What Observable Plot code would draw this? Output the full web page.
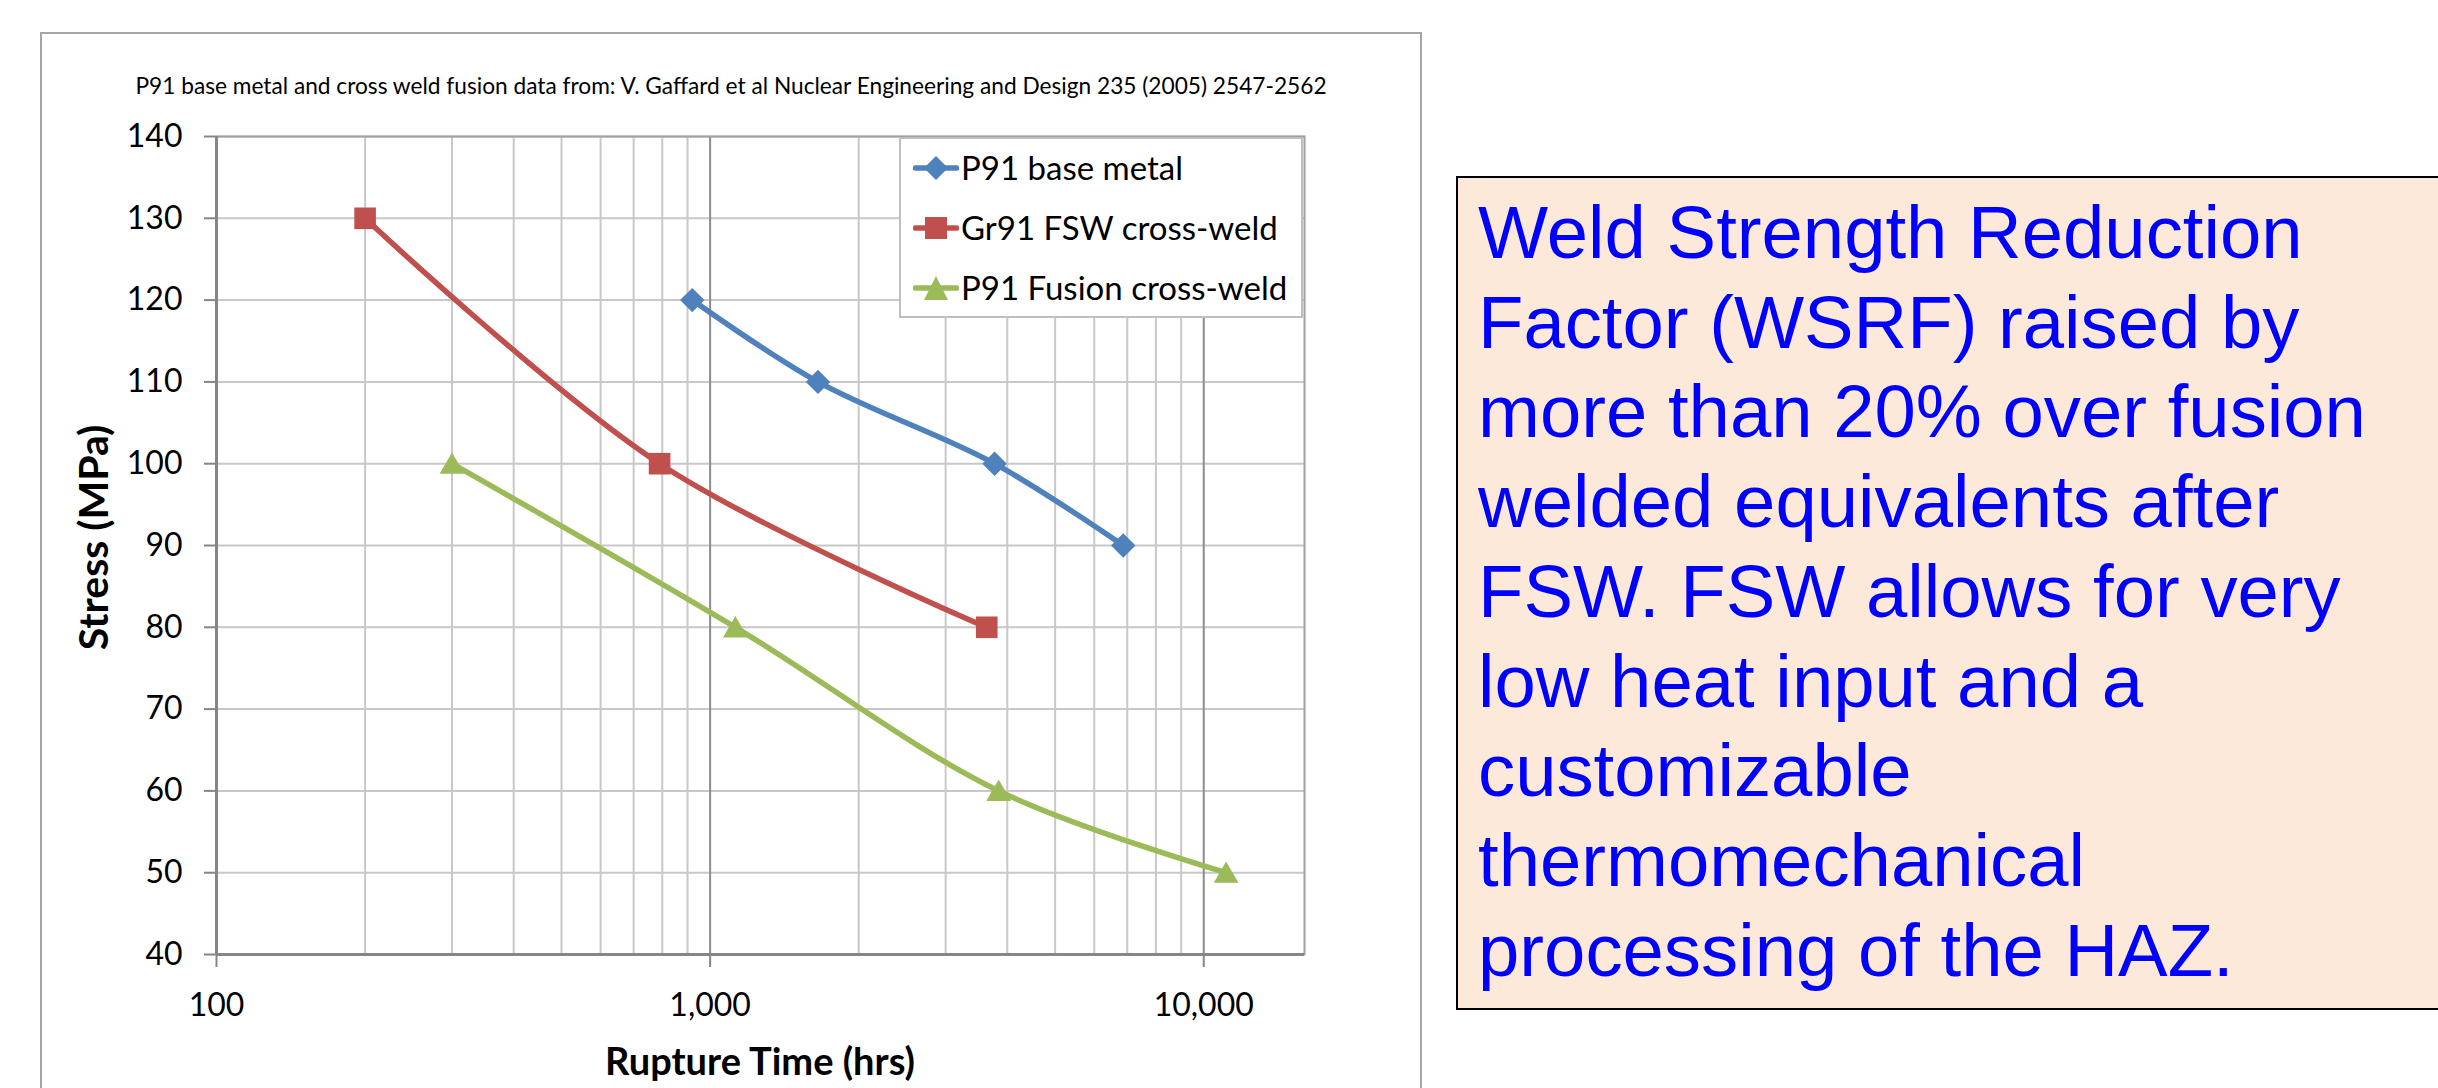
<!DOCTYPE html>
<html>
<head>
<meta charset="utf-8">
<script src="https://cdn.jsdelivr.net/npm/d3@7"></script>
<script src="https://cdn.jsdelivr.net/npm/@observablehq/plot@0.6"></script>
<style>
  html, body { margin: 0; padding: 0; background: #ffffff; }
  body { width: 2438px; height: 1088px; overflow: hidden; position: relative; font-family: Lato, "Open Sans", sans-serif; }
  #frame { position: absolute; left: 40px; top: 32px; width: 1378px; height: 2000px; border: 2px solid #a6a6a6; border-bottom: none; }
  #chart { position: absolute; left: 0; top: 0; }
  #title { position: absolute; left: 0; width: 1462px; top: 75px; text-align: center; font-size: 22.7px; line-height: 22.7px; color: #000; white-space: nowrap; }
  #xlabel { position: absolute; left: 0; width: 1520px; top: 1041px; text-align: center; font-size: 38px; line-height: 38px; font-weight: bold; color: #000; white-space: nowrap; }
  #ylabel { position: absolute; left: -108px; top: 517px; width: 400px; height: 41px; text-align: center; font-size: 41px; line-height: 41px; font-weight: bold; color: #000; transform: rotate(-90deg); transform-origin: 50% 50%; white-space: nowrap; }
  #legend { position: absolute; left: 899px; top: 137px; width: 404px; height: 181px; box-sizing: border-box; border: 2px solid #bfbfbf; background: #fff; }
  .lrow { position: absolute; left: 12px; height: 60px; display: flex; align-items: center; font-size: 33px; line-height: 1.2; color: #000; white-space: nowrap; }
  .lrow svg { margin-right: 2px; }
  #note { position: absolute; left: 1456px; top: 176px; width: 1100px; height: 834px; box-sizing: border-box; border: 2px solid #000; background: #fde9d9; padding: 10px 0 0 20px; font-family: "Liberation Sans", Arial, sans-serif; font-size: 74.3px; line-height: 89.7px; color: #0000ff; white-space: nowrap; }
</style>
</head>
<body>
<div id="frame"></div>
<div id="chart"></div>
<div id="title"></div>
<div id="xlabel"></div>
<div id="ylabel"></div>
<div id="legend"></div>
<div id="note"></div>
<script>
// ---- Data ----
const seriesNames = ["P91 base metal", "Gr91 FSW cross-weld", "P91 Fusion cross-weld"];
const seriesColors = ["#4f81bd", "#c0504d", "#9bbb59"];
const seriesSymbols = ["diamond2", "square", "triangle"];

const baseMetalTime = [920, 1654, 3770, 6870];
const baseMetalStress = [120, 110, 100, 90];

const fswTime = [200, 790, 3634];
const fswStress = [130, 100, 80];

const fusionTime = [300, 1125, 3842, 11100];
const fusionStress = [100, 80, 60, 50];

const xMajorTicks = [100, 1000, 10000];
const yTicks = [40, 50, 60, 70, 80, 90, 100, 110, 120, 130, 140];
const xDomain = [100, 16000];

const titleText = "P91 base metal and cross weld fusion data from: V. Gaffard et al Nuclear Engineering and Design 235 (2005) 2547-2562";
const xLabelText = "Rupture Time (hrs)";
const yLabelText = "Stress (MPa)";
const noteLines = [
  "Weld Strength Reduction",
  "Factor (WSRF) raised by",
  "more than 20% over fusion",
  "welded equivalents after",
  "FSW. FSW allows for very",
  "low heat input and a",
  "customizable",
  "thermomechanical",
  "processing of the HAZ."
];

// ---- Build table ----
const times = [baseMetalTime, fswTime, fusionTime];
const stresses = [baseMetalStress, fswStress, fusionStress];
const rows = seriesNames.flatMap((name, i) => times[i].map((t, j) => ({series: name, time: t, stress: stresses[i][j]})));

const allLogTicks = d3.scaleLog().domain(xDomain).ticks();
const xMinorTicks = allLogTicks.filter(t => !xMajorTicks.includes(t));

const symbolR = {"diamond2": 11, "square": 12.2, "triangle": 9.2};
const symbolDy = {"diamond2": 0, "square": 0, "triangle": 3};

const chart = Plot.plot({
  width: 1422,
  height: 1088,
  marginLeft: 216,
  marginTop: 136,
  marginRight: 118,
  marginBottom: 134,
  style: {fontFamily: "Lato, 'Open Sans', sans-serif", fontSize: "32px", color: "#000", background: "transparent", overflow: "visible"},
  x: {type: "log", domain: xDomain, ticks: xMajorTicks, tickFormat: d3.format(","), tickSize: 13, tickPadding: 26, label: null},
  y: {domain: [yTicks[0], yTicks[yTicks.length - 1]], ticks: yTicks, tickSize: 12, tickPadding: 22, label: null},
  color: {domain: seriesNames, range: seriesColors},
  marks: [
    Plot.ruleY(yTicks, {stroke: "#c8c8c8", strokeWidth: 2}),
    Plot.ruleX(xMinorTicks, {stroke: "#c8c8c8", strokeWidth: 2}),
    Plot.ruleX(xMajorTicks, {stroke: "#8c8c8c", strokeWidth: 2}),
    Plot.frame({stroke: "#a0a0a0", strokeWidth: 2}),
    Plot.ruleX([xDomain[0]], {stroke: "#868686", strokeWidth: 3}),
    Plot.ruleY([yTicks[0]], {stroke: "#868686", strokeWidth: 3}),
    Plot.line(rows, {x: "time", y: "stress", z: "series", stroke: "series", strokeWidth: 5.5, curve: "catmull-rom", strokeLinejoin: "round", strokeLinecap: "round"}),
    ...seriesNames.map((name, i) => Plot.dot(rows.filter(d => d.series === name), {
      x: "time", y: "stress", symbol: seriesSymbols[i], r: symbolR[seriesSymbols[i]], dy: symbolDy[seriesSymbols[i]], fill: seriesColors[i], stroke: "none"
    }))
  ]
});
document.getElementById("chart").appendChild(chart);

// axis tick colour (gray like the original)
d3.select(chart).selectAll('g[aria-label^="x-axis"] path, g[aria-label^="y-axis"] path, g[aria-label^="x-axis"] line, g[aria-label^="y-axis"] line')
  .attr("stroke", "#868686").attr("stroke-width", 2);

// ---- Text ----
document.getElementById("title").textContent = titleText;
document.getElementById("xlabel").textContent = xLabelText;
document.getElementById("ylabel").textContent = yLabelText;
document.getElementById("note").innerHTML = noteLines.map(l => l.replace(/&/g, "&amp;")).join("<br>");

// ---- Legend ----
const legend = document.getElementById("legend");
const rowTops = [-1, 59, 119];
function swatch(i) {
  const c = seriesColors[i];
  let marker;
  if (seriesSymbols[i] === "diamond2") marker = `<polygon points="23,3 35,15 23,27 11,15" fill="${c}"/>`;
  else if (seriesSymbols[i] === "square") marker = `<rect x="12" y="4" width="22" height="22" fill="${c}"/>`;
  else marker = `<polygon points="23,3 35,27 11,27" fill="${c}"/>`;
  return `<svg width="46" height="30" viewBox="0 0 46 30"><line x1="2.5" y1="15" x2="43.5" y2="15" stroke="${c}" stroke-width="5.5" stroke-linecap="round"/>${marker}</svg>`;
}
seriesNames.forEach((name, i) => {
  const r = document.createElement("div");
  r.className = "lrow";
  r.style.top = rowTops[i] + "px";
  r.innerHTML = swatch(i) + `<span></span>`;
  r.querySelector("span").textContent = name;
  legend.appendChild(r);
});
</script>
</body>
</html>
